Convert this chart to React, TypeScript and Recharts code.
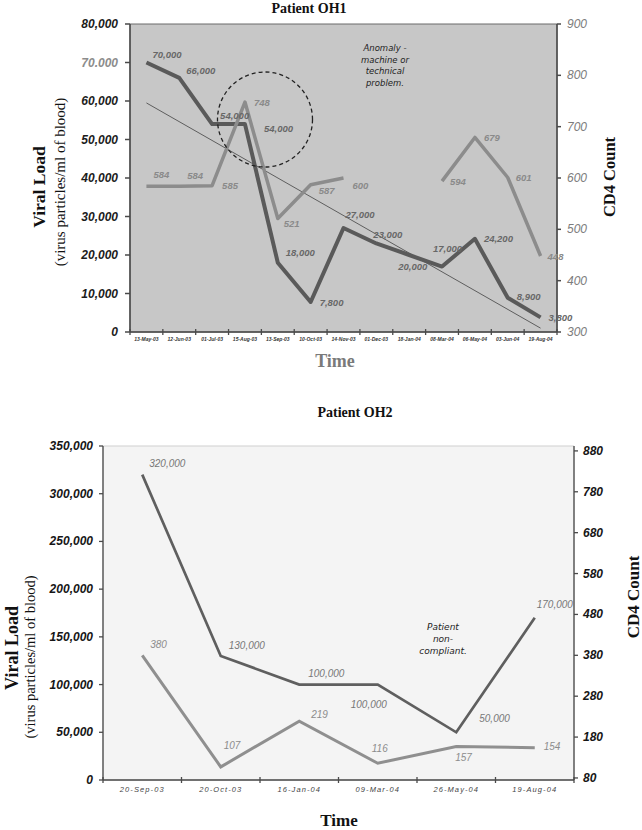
import React from 'react';
import { ComposedChart, Line, XAxis, YAxis, ReferenceArea, ReferenceDot } from 'recharts';

// ---------------- Patient OH1 data ----------------
const oh1Dates = [
  '13-May-03', '12-Jun-03', '01-Jul-03', '15-Aug-03', '13-Sep-03', '10-Oct-03', '14-Nov-03',
  '01-Dec-03', '18-Jan-04', '08-Mar-04', '06-May-04', '03-Jun-04', '19-Aug-04',
];
const oh1ViralLoad = [70000, 66000, 54000, 54000, 18000, 7800, 27000, 23000, 20000, 17000, 24200, 8900, 3800];
const oh1CD4: (number | null)[] = [584, 584, 585, 748, 521, 587, 600, null, null, 594, 679, 601, 448];
const oh1Trend: (number | null)[] = [59500, null, null, null, null, null, null, null, null, null, null, null, 1000];
const oh1VLTicks = [0, 10000, 20000, 30000, 40000, 50000, 60000, 70000, 80000];
const oh1VLTickLabels = ['0', '10,000', '20,000', '30,000', '40,000', '50,000', '60,000', '70.000', '80,000'];
const oh1CD4Ticks = [300, 400, 500, 600, 700, 800, 900];
const oh1CircleCentre = { x: 3.61, y: 55200 };
const oh1Note = ['Anomaly -', 'machine or', 'technical', 'problem.'];

// ---------------- Patient OH2 data ----------------
const oh2Dates = ['20-Sep-03', '20-Oct-03', '16-Jan-04', '09-Mar-04', '26-May-04', '19-Aug-04'];
const oh2ViralLoad = [320000, 130000, 100000, 100000, 50000, 170000];
const oh2CD4 = [380, 107, 219, 116, 157, 154];
const oh2VLTicks = [0, 50000, 100000, 150000, 200000, 250000, 300000, 350000];
const oh2CD4Ticks = [80, 180, 280, 380, 480, 580, 680, 780, 880];
const oh2Note = ['Patient', 'non-', 'compliant.'];

// ---------------- styles / layout ----------------
const AXIS = '#4a4a4a';
const SANS = '"Liberation Sans", Arial, sans-serif';
const SERIF = '"Liberation Serif", "Times New Roman", serif';
const NOTE = '"DejaVu Sans", Verdana, sans-serif';

const oh1VLLabelOffsets = [[6, -8], [7, -7], [8, -9], [19, 4], [8, -10], [9, 1], [2, -14], [-3, -9], [-11, 11], [-9, -18], [9, 0], [9, -1], [8, 0]];
const oh1CD4LabelOffsets = [[7, -12], [8, -11], [10, 0], [9, 0], [6, 5], [8, 6], [9, 7], [0, 0], [0, 0], [8, 0], [9, 0], [8, 0], [7, 0]];
const oh2VLLabelOffsets = [[7, -11], [8, -10], [9, -11], [-27, 20], [23, -14], [2, -13]];
const oh2CD4LabelOffsets = [[8, -11], [3, -21], [12, -7], [-6, -15], [-1, 11], [9, -1]];

const oh1Rows = oh1Dates.map((d, i) => ({ i, date: d, vl: oh1ViralLoad[i], cd4: oh1CD4[i], trend: oh1Trend[i] }));
const oh2Rows = oh2Dates.map((d, i) => ({ i, date: d, vl: oh2ViralLoad[i], cd4: oh2CD4[i] }));

const bandTicks = (n: number) => {
  const t = [-0.5];
  for (let i = 0; i < n; i++) t.push(i, i + 0.5);
  return t;
};

const fmt = (v: number) => v.toLocaleString('en-US');

const makeXTick = (labels: string[], o: any) => (p: any) => {
  const { x, y, payload } = p;
  const v = payload.value;
  if (!Number.isInteger(v)) {
    return <line x1={x} x2={x} y1={y - o.up} y2={y + o.down} stroke={AXIS} strokeWidth={1.3} />;
  }
  return (
    <text x={x} y={y + o.dy} textAnchor="middle" fontFamily={SANS} fontSize={o.size} fontStyle="italic"
      fontWeight={o.weight} letterSpacing={o.ls} fill={o.color}>{labels[v]}</text>
  );
};

const makeYTick = (o: any, labelOf: (v: number) => string, colorOf: (s: string) => string) => (p: any) => {
  const { x, y, payload } = p;
  const s = labelOf(payload.value);
  return (
    <text x={x} y={y} textAnchor={o.anchor} dominantBaseline="central" fontFamily={SANS} fontSize={12}
      fontStyle="italic" fontWeight={o.weight} fill={colorOf(s)}>{s}</text>
  );
};

const makeLabelDot = (offsets: number[][], f: (v: number) => string, o: any) => (p: any) => {
  const { cx, cy, index, value } = p;
  const v = Array.isArray(value) ? value[1] : value;
  if (cx == null || cy == null || v == null || Number.isNaN(cy)) return <g key={`n-${index}`} />;
  const [dx, dy] = offsets[index] || [6, 0];
  return (
    <text key={`l-${index}`} x={cx + dx} y={cy + dy} dominantBaseline="central" fontFamily={SANS}
      fontSize={o.size} fontStyle="italic" fontWeight={o.weight} fill={o.color}>{f(v)}</text>
  );
};

const Txt = ({ cx, cy, rotate = 0, style, children }: any) => (
  <div style={{
    position: 'absolute', left: cx, top: cy, whiteSpace: 'nowrap', lineHeight: 1,
    transform: `translate(-50%, -50%) rotate(${rotate}deg)`, ...style,
  }}>{children}</div>
);

const Note = ({ cx, cy, lines, size, lh }: any) => (
  <div style={{
    position: 'absolute', left: cx, top: cy, transform: 'translate(-50%, -50%)', textAlign: 'center',
    fontFamily: NOTE, fontStyle: 'italic', fontSize: size, lineHeight: `${lh}px`, color: '#1e1e1e', whiteSpace: 'nowrap',
  }}>
    {lines.map((l: string) => <div key={l}>{l}</div>)}
  </div>
);

function ChartOH1() {
  return (
    <ComposedChart width={642} height={372} data={oh1Rows} margin={{ top: 24, right: 0, bottom: 0, left: 0 }}>
      <XAxis dataKey="i" type="number" domain={[-0.5, 12.5]} ticks={bandTicks(oh1Dates.length)} interval={0}
        height={40} tickSize={0} tickMargin={0} tickLine={false} stroke={AXIS} strokeWidth={1.5}
        tick={makeXTick(oh1Dates, { up: 3, down: 3, dy: 9, size: 5, weight: 'bold', ls: 0, color: '#333' })} />
      <YAxis yAxisId="left" width={130} domain={[0, 80000]} ticks={oh1VLTicks} interval={0}
        tickSize={5} tickMargin={7} stroke={AXIS} strokeWidth={1.5}
        tick={makeYTick({ anchor: 'end', weight: 'bold' },
          (v) => oh1VLTickLabels[oh1VLTicks.indexOf(v)] ?? String(v),
          (s) => (s.includes('.') ? '#8c8c8c' : '#1c1c1c'))} />
      <YAxis yAxisId="right" orientation="right" width={85} domain={[300, 900]} ticks={oh1CD4Ticks} interval={0}
        tickSize={4} tickMargin={6} stroke={AXIS} strokeWidth={1.5}
        tick={makeYTick({ anchor: 'start', weight: 'normal' }, (v) => String(v), () => '#7c7c7c')} />
      <ReferenceArea yAxisId="left" x1={-0.5} x2={12.5} y1={0} y2={80000} fill="#c7c7c7" fillOpacity={1}
        stroke="#6a6a6a" strokeWidth={1} ifOverflow="visible" />
      <Line yAxisId="left" dataKey="trend" connectNulls stroke="#5e5e5e" strokeWidth={1} dot={false}
        activeDot={false} isAnimationActive={false} />
      <Line yAxisId="left" dataKey="vl" stroke="#5a5a5a" strokeWidth={4} strokeLinejoin="round"
        dot={makeLabelDot(oh1VLLabelOffsets, fmt, { size: 9.5, weight: 'bold', color: '#676767' })}
        activeDot={false} isAnimationActive={false} />
      <Line yAxisId="right" dataKey="cd4" stroke="#8c8c8c" strokeWidth={3.5} strokeLinejoin="round"
        dot={makeLabelDot(oh1CD4LabelOffsets, (v) => String(v), { size: 9.5, weight: 'bold', color: '#8a8a8a' })}
        activeDot={false} isAnimationActive={false} />
      <ReferenceDot yAxisId="left" x={oh1CircleCentre.x} y={oh1CircleCentre.y} r={47.5} fill="none"
        stroke="#222" strokeWidth={1.3} strokeDasharray="4 3" ifOverflow="visible" />
    </ComposedChart>
  );
}

function ChartOH2() {
  return (
    <ComposedChart width={642} height={458} data={oh2Rows} margin={{ top: 74, right: 0, bottom: 0, left: 0 }}>
      <XAxis dataKey="i" type="number" domain={[-0.5, 5.5]} ticks={bandTicks(oh2Dates.length)} interval={0}
        height={50} tickSize={0} tickMargin={0} tickLine={false} stroke={AXIS} strokeWidth={1.3}
        tick={makeXTick(oh2Dates, { up: 3, down: 3, dy: 12, size: 7.5, weight: 'normal', ls: 1.1, color: '#444' })} />
      <YAxis yAxisId="left" width={103} domain={[0, 350000]} ticks={oh2VLTicks} interval={0}
        tickSize={4} tickMargin={6} stroke={AXIS} strokeWidth={1.3}
        tick={makeYTick({ anchor: 'end', weight: 'bold' }, (v) => fmt(v), () => '#161616')} />
      <YAxis yAxisId="right" orientation="right" width={68} domain={[75, 892]} ticks={oh2CD4Ticks} interval={0}
        tickSize={4} tickMargin={5} stroke={AXIS} strokeWidth={1.3}
        tick={makeYTick({ anchor: 'start', weight: 'bold' }, (v) => String(v), () => '#161616')} />
      <ReferenceArea yAxisId="left" x1={-0.5} x2={5.5} y1={0} y2={350000} fill="#f4f4f4" fillOpacity={1}
        stroke="#cfcfcf" strokeWidth={1} ifOverflow="visible" />
      <Line yAxisId="left" dataKey="vl" stroke="#5f5f5f" strokeWidth={2.7}
        dot={makeLabelDot(oh2VLLabelOffsets, fmt, { size: 10, weight: 'normal', color: '#777' })}
        activeDot={false} isAnimationActive={false} />
      <Line yAxisId="right" dataKey="cd4" stroke="#8f8f8f" strokeWidth={3}
        dot={makeLabelDot(oh2CD4LabelOffsets, (v) => String(v), { size: 10, weight: 'normal', color: '#8c8c8c' })}
        activeDot={false} isAnimationActive={false} />
    </ComposedChart>
  );
}

export default function App() {
  const serifBold = { fontFamily: SERIF, fontWeight: 'bold', color: '#111' };
  return (
    <div style={{ position: 'absolute', left: 0, top: 0, width: 642, height: 830, background: '#fff', overflow: 'hidden' }}>
      <div style={{ position: 'absolute', left: 0, top: 0 }}>
        <ChartOH1 />
      </div>
      <div style={{ position: 'absolute', left: 0, top: 372 }}>
        <ChartOH2 />
      </div>

      {/* Patient OH1 texts */}
      <Txt cx={309} cy={9} style={{ ...serifBold, fontSize: 14 }}>Patient OH1</Txt>
      <Txt cx={40} cy={187} rotate={-90} style={{ ...serifBold, fontSize: 17.5 }}>Viral Load</Txt>
      <Txt cx={60} cy={182} rotate={-90} style={{ fontFamily: SERIF, fontSize: 15, color: '#111' }}>(virus particles/ml of blood)</Txt>
      <Txt cx={610} cy={177} rotate={-90} style={{ ...serifBold, fontSize: 16.5 }}>CD4 Count</Txt>
      <Txt cx={335} cy={361} style={{ ...serifBold, fontSize: 18, color: '#7a7a7a' }}>Time</Txt>
      <Note cx={385} cy={66} lines={oh1Note} size={8.5} lh={11.7} />

      {/* Patient OH2 texts */}
      <Txt cx={355} cy={413} style={{ ...serifBold, fontSize: 14 }}>Patient OH2</Txt>
      <Txt cx={12} cy={648} rotate={-90} style={{ ...serifBold, fontSize: 18 }}>Viral Load</Txt>
      <Txt cx={30} cy={657} rotate={-90} style={{ fontFamily: SERIF, fontSize: 14.5, color: '#111' }}>(virus particles/ml of blood)</Txt>
      <Txt cx={633} cy={597} rotate={-90} style={{ ...serifBold, fontSize: 17 }}>CD4 Count</Txt>
      <Txt cx={339} cy={820} style={{ ...serifBold, fontSize: 17 }}>Time</Txt>
      <Note cx={443} cy={639} lines={oh2Note} size={9} lh={12} />
    </div>
  );
}
